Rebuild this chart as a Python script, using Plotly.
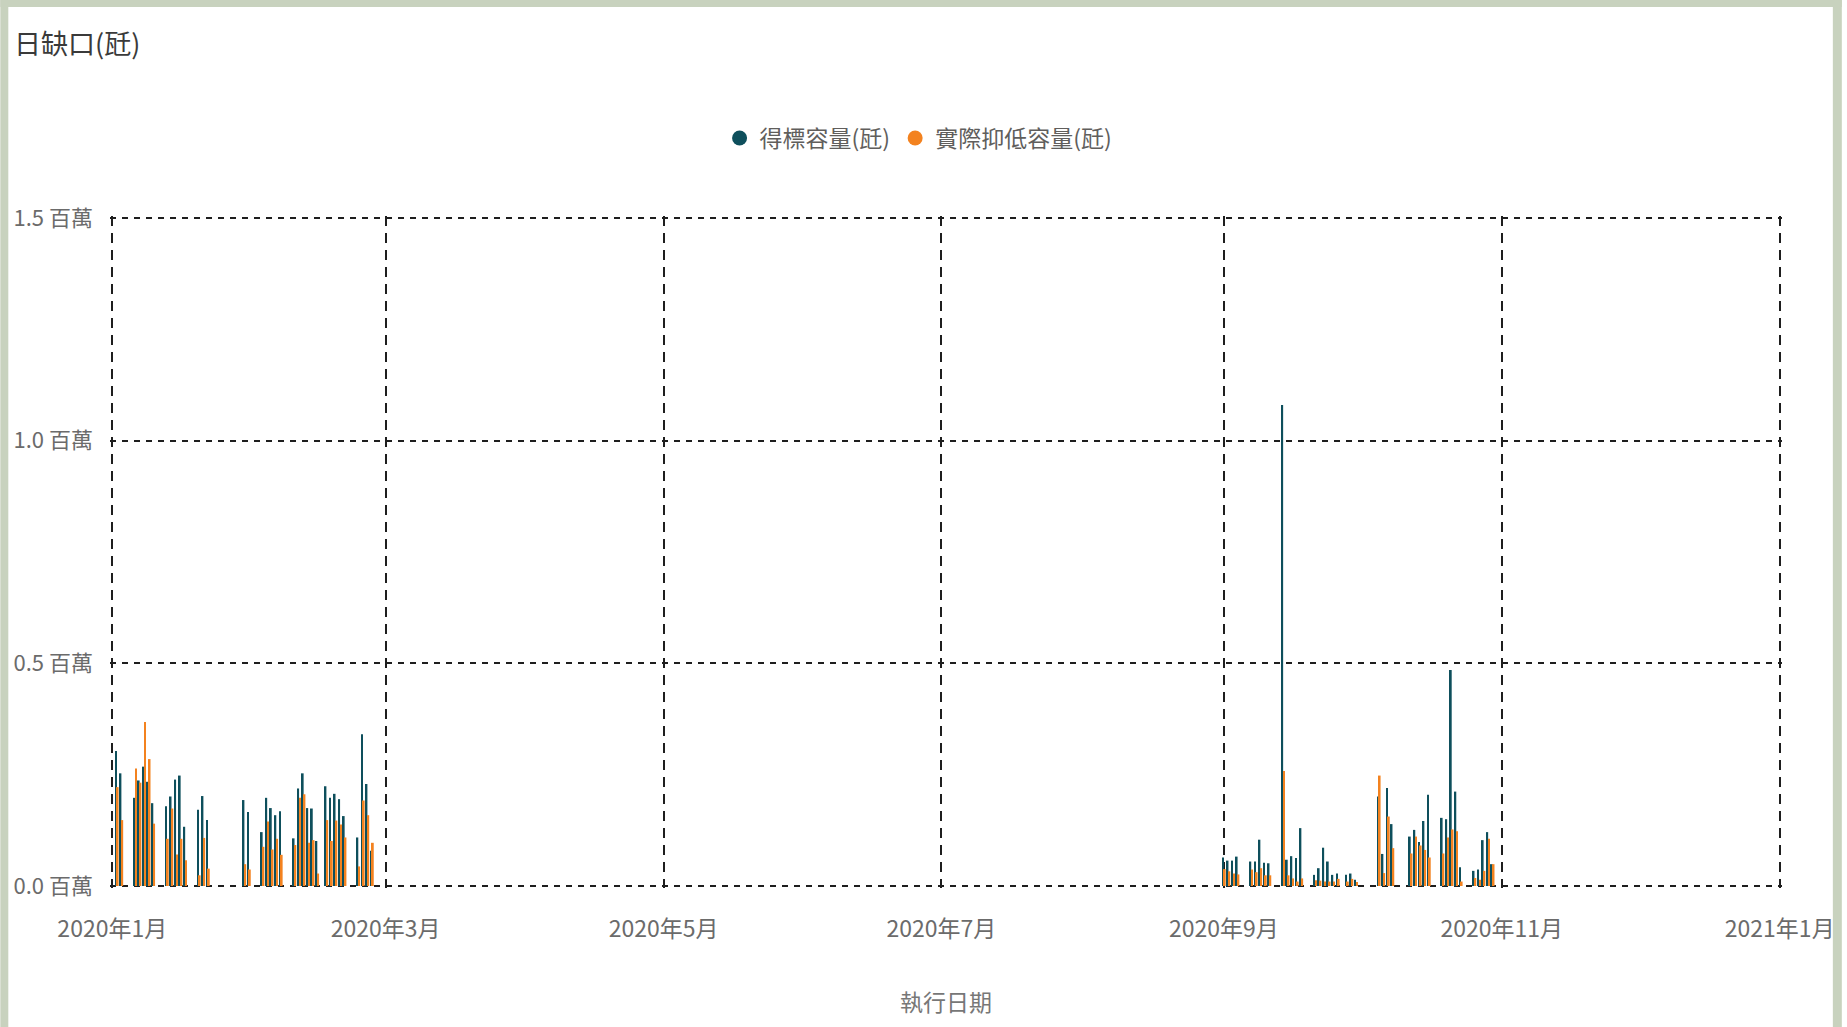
import plotly.graph_objects as go

# ---- data (values in 百萬 瓩) ----
jan_feb_dates = [
    "2020-01-02", "2020-01-03",
    "2020-01-06", "2020-01-07", "2020-01-08", "2020-01-09", "2020-01-10",
    "2020-01-13", "2020-01-14", "2020-01-15", "2020-01-16", "2020-01-17",
    "2020-01-20", "2020-01-21", "2020-01-22",
    "2020-01-30", "2020-01-31",
    "2020-02-03", "2020-02-04", "2020-02-05", "2020-02-06", "2020-02-07",
    "2020-02-10", "2020-02-11", "2020-02-12", "2020-02-13", "2020-02-14", "2020-02-15",
    "2020-02-17", "2020-02-18", "2020-02-19", "2020-02-20", "2020-02-21",
    "2020-02-24", "2020-02-25", "2020-02-26", "2020-02-27",
]
jan_feb_awarded = [
    0.303, 0.253,
    0.198, 0.237, 0.268, 0.234, 0.186,
    0.179, 0.201, 0.239, 0.248, 0.133,
    0.171, 0.202, 0.148,
    0.193, 0.166,
    0.121, 0.198, 0.175, 0.159, 0.168,
    0.107, 0.219, 0.253, 0.175, 0.174, 0.101,
    0.224, 0.198, 0.207, 0.195, 0.157,
    0.109, 0.341, 0.229, 0.079,
]
jan_feb_actual = [
    0.222, 0.148,
    0.264, 0.232, 0.368, 0.285, 0.140,
    0.106, 0.174, 0.071, 0.106, 0.058,
    0.024, 0.108, 0.039,
    0.049, 0.037,
    0.088, 0.145, 0.082, 0.106, 0.070,
    0.092, 0.198, 0.206, 0.097, 0.103, 0.028,
    0.148, 0.101, 0.147, 0.138, 0.109,
    0.044, 0.192, 0.159, 0.097,
]

sep_oct_dates = [
    "2020-09-01", "2020-09-02", "2020-09-03", "2020-09-04",
    "2020-09-07", "2020-09-08", "2020-09-09", "2020-09-10", "2020-09-11",
    "2020-09-14", "2020-09-15", "2020-09-16", "2020-09-17", "2020-09-18",
    "2020-09-21", "2020-09-22", "2020-09-23", "2020-09-24", "2020-09-25", "2020-09-26",
    "2020-09-28", "2020-09-29", "2020-09-30",
    "2020-10-05", "2020-10-06", "2020-10-07", "2020-10-08",
    "2020-10-12", "2020-10-13", "2020-10-14", "2020-10-15", "2020-10-16",
    "2020-10-19", "2020-10-20", "2020-10-21", "2020-10-22", "2020-10-23",
    "2020-10-26", "2020-10-27", "2020-10-28", "2020-10-29", "2020-10-30",
]
sep_oct_awarded = [
    0.064, 0.057, 0.057, 0.066,
    0.055, 0.055, 0.104, 0.052, 0.051,
    1.080, 0.059, 0.067, 0.063, 0.130,
    0.025, 0.040, 0.086, 0.055, 0.025, 0.028,
    0.025, 0.028, 0.014,
    0.201, 0.072, 0.220, 0.139,
    0.111, 0.126, 0.099, 0.146, 0.205,
    0.153, 0.150, 0.485, 0.212, 0.042,
    0.034, 0.037, 0.103, 0.121, 0.049,
]
sep_oct_actual = [
    0.038, 0.033, 0.028, 0.026,
    0.037, 0.031, 0.040, 0.024, 0.024,
    0.258, 0.024, 0.017, 0.010, 0.017,
    0.013, 0.012, 0.010, 0.010, 0.010, 0.016,
    0.010, 0.016, 0.009,
    0.248, 0.029, 0.156, 0.085,
    0.073, 0.111, 0.091, 0.081, 0.064,
    0.073, 0.109, 0.127, 0.123, 0.010,
    0.018, 0.014, 0.034, 0.106, 0.049,
]

series_names = ["得標容量(瓩)", "實際抑低容量(瓩)"]
x_tick_vals = ["2020-01-01", "2020-03-01", "2020-05-01", "2020-07-01",
               "2020-09-01", "2020-11-01", "2021-01-01"]
x_tick_text = ["2020年1月", "2020年3月", "2020年5月", "2020年7月",
               "2020年9月", "2020年11月", "2021年1月"]
y_tick_vals = [0, 500000, 1000000, 1500000]
y_tick_text = ["0.0 百萬", "0.5 百萬", "1.0 百萬", "1.5 百萬"]
chart_title = "日缺口(瓩)"
x_title = "執行日期"

# ---- style ----
TEAL = "#0E4F5C"
ORANGE = "#F3821F"
BORDER = "#C8D2BE"
FONT = "Noto Sans CJK TC"
W, H = 1847, 1027
ML, MR, MT, MB = 110, 60, 216, 139
PW, PH = W - ML - MR, H - MT - MB
Y_PAD = 1500000 / 668 * 2  # two pixels of headroom so edge gridlines are drawn

dates = jan_feb_dates + sep_oct_dates
awarded = [v * 1e6 for v in jan_feb_awarded + sep_oct_awarded]
actual = [v * 1e6 for v in jan_feb_actual + sep_oct_actual]

fig = go.Figure()
fig.add_trace(go.Bar(x=dates, y=awarded, name=series_names[0],
                     marker=dict(color=TEAL, line=dict(width=0)), showlegend=False))
fig.add_trace(go.Bar(x=dates, y=actual, name=series_names[1],
                     marker=dict(color=ORANGE, line=dict(width=0)), showlegend=False))
# legend entries with round markers
fig.add_trace(go.Scatter(x=[None], y=[None], mode="markers", name=series_names[0],
                         marker=dict(color=TEAL, size=15, symbol="circle")))
fig.add_trace(go.Scatter(x=[None], y=[None], mode="markers", name=series_names[1],
                         marker=dict(color=ORANGE, size=15, symbol="circle")))


def px_x(px):
    return (px - ML) / PW


def px_y(py):
    return (H - MB - py) / PH


shapes = [
    dict(type="rect", xref="paper", yref="paper", x0=px_x(0), x1=px_x(8),
         y0=px_y(H), y1=px_y(0), fillcolor=BORDER, line=dict(width=0), layer="above"),
    dict(type="rect", xref="paper", yref="paper", x0=px_x(0), x1=px_x(W),
         y0=px_y(7), y1=px_y(0), fillcolor=BORDER, line=dict(width=0), layer="above"),
    dict(type="rect", xref="paper", yref="paper", x0=px_x(1838), x1=px_x(W),
         y0=px_y(H), y1=px_y(0), fillcolor=BORDER, line=dict(width=0), layer="above"),
]

annotations = [
    dict(text=chart_title, xref="paper", yref="paper", x=px_x(12), y=px_y(42),
         xanchor="left", yanchor="middle", showarrow=False,
         font=dict(family=FONT, size=27, color="#3a3a3a")),
    dict(text=x_title, xref="paper", yref="paper", x=px_x(948), y=px_y(1001),
         xanchor="center", yanchor="middle", showarrow=False,
         font=dict(family=FONT, size=23, color="#777777")),
]

fig.update_layout(
    width=W, height=H, autosize=False,
    margin=dict(l=ML, r=MR, t=MT, b=MB, pad=0),
    paper_bgcolor="white", plot_bgcolor="white",
    barmode="group", bargap=0.22, bargroupgap=0.0,
    font=dict(family=FONT, color="#666666"),
    shapes=shapes, annotations=annotations,
    legend=dict(orientation="h", x=px_x(921), y=px_y(138), xanchor="center",
                yanchor="middle", font=dict(family=FONT, size=23, color="#605E5C"),
                itemwidth=30, tracegroupgap=0, bgcolor="rgba(0,0,0,0)"),
    xaxis=dict(
        type="date", range=["2019-12-31 12:00", "2021-01-01 12:00"],
        tickmode="array", tickvals=x_tick_vals, ticktext=x_tick_text,
        showgrid=True, gridcolor="#1e1e1e", gridwidth=1.8, griddash="10px,7px",
        showline=False, zeroline=False, ticks="",
        tickfont=dict(family=FONT, size=23, color="#6b6b6b"),
        ticklabelstandoff=25,
    ),
    yaxis=dict(
        range=[-Y_PAD, 1500000 + Y_PAD], tickmode="array",
        tickvals=y_tick_vals, ticktext=y_tick_text,
        showgrid=True, gridcolor="#1e1e1e", gridwidth=2.2, griddash="6px,6px",
        showline=False, zeroline=False, ticks="",
        tickfont=dict(family=FONT, size=22, color="#6b6b6b"),
        ticklabelstandoff=16,
    ),
)

fig.write_html("out.html", config={"displayModeBar": False},
               post_script="document.body.style.margin='0';document.body.style.overflow='hidden';")
